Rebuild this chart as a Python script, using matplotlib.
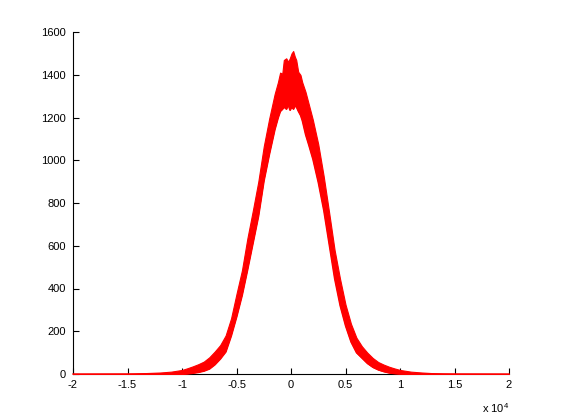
import matplotlib
matplotlib.use("Agg")
import matplotlib.pyplot as plt

plt.rcParams['font.family'] = ['Liberation Sans', 'DejaVu Sans']
plt.rcParams['mathtext.fontset'] = 'custom'
plt.rcParams['mathtext.rm'] = 'Liberation Sans'

# x positions in units of 1e4
x_vals = [-2.0, -1.5, -1.4, -1.3, -1.2, -1.1, -1.0, -0.95, -0.9, -0.85, -0.8, -0.75,
          -0.7, -0.65, -0.6, -0.55, -0.5, -0.45, -0.4, -0.35, -0.3, -0.25, -0.2,
          -0.15, -0.12, -0.1, -0.08, -0.066, -0.044, -0.026, -0.011, 0.005, 0.02,
          0.035, 0.048, 0.066, 0.087, 0.103, 0.133, 0.163, 0.2, 0.25, 0.3, 0.35,
          0.4, 0.45, 0.5, 0.55, 0.6, 0.65, 0.7, 0.75, 0.8, 0.85, 0.9, 0.95, 1.0,
          1.1, 1.2, 1.3, 1.4, 1.5, 2.0]
lower_vals = [0, 0, 0, 0, 0, 0, 0, 2, 5, 9, 15, 25,
              45, 72, 105, 180, 270, 370, 490, 615, 740, 905, 1030,
              1145, 1200, 1230, 1240, 1250, 1240, 1260, 1235, 1250, 1240,
              1255, 1250, 1230, 1210, 1185, 1120, 1070, 1005, 895, 765, 605,
              445, 320, 225, 150, 100, 75, 50, 32, 20, 12, 6, 3, 1,
              0, 0, 0, 0, 0, 0]
upper_vals = [0, 1, 3, 5, 7, 11, 19, 27, 36, 46, 58, 78,
              105, 135, 180, 260, 375, 485, 635, 765, 900, 1065, 1195,
              1310, 1365, 1410, 1405, 1469, 1477, 1461, 1477, 1500, 1511,
              1485, 1469, 1414, 1399, 1365, 1320, 1262, 1190, 1075, 925, 755,
              580, 445, 325, 235, 170, 130, 100, 75, 56, 44, 34, 26, 19,
              11, 7, 4, 2, 1, 0]

x_ticks = [-2, -1.5, -1, -0.5, 0, 0.5, 1, 1.5, 2]
x_tick_labels = ['-2', '-1.5', '-1', '-0.5', '0', '0.5', '1', '1.5', '2']
y_ticks = [0, 200, 400, 600, 800, 1000, 1200, 1400, 1600]

fig = plt.figure(figsize=(5.61, 4.20), dpi=100)
ax = fig.add_axes([73/561, 46/420, 436/561, 342/420])

ax.fill_between(x_vals, lower_vals, upper_vals, color='#ff0000', lw=0.8,
                edgecolor='#ff0000', zorder=3)
ax.plot(x_vals, lower_vals, color='#ff0000', lw=1.0, zorder=4, clip_on=False)

ax.set_xlim(-2, 2)
ax.set_ylim(0, 1600)
ax.set_xticks(x_ticks)
ax.set_xticklabels(x_tick_labels)
ax.set_yticks(y_ticks)

for s in ['top', 'right']:
    ax.spines[s].set_visible(False)
for s in ['left', 'bottom']:
    ax.spines[s].set_linewidth(0.8)
    ax.spines[s].set_zorder(2)

ax.tick_params(direction='in', length=4, width=0.8, labelsize=8,
               top=False, right=False)
ax.tick_params(axis='y', pad=5)
ax.tick_params(axis='x', pad=4)

fig.text(509/561, 1 - 413/420, r'x 10$^4$', ha='right', va='baseline', fontsize=8)

fig.savefig('out.png', dpi=100, facecolor='white')
